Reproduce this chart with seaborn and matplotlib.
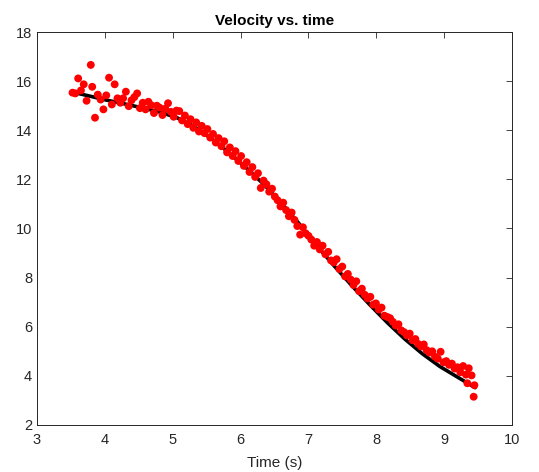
# Velocity vs. time: measured samples (red) with the fitted curve (black)
import matplotlib as mpl
import matplotlib.pyplot as plt
import numpy as np
import seaborn as sns
import pandas as pd

# Measured samples
timeA = [3.524, 3.565, 3.607, 3.648, 3.689, 3.731, 3.793, 3.814, 3.855, 3.896, 3.938, 3.979, 4.021, 4.062, 4.103, 4.145, 4.186, 4.228]
velA = [15.53, 15.50, 16.11, 15.62, 15.87, 15.20, 16.66, 15.77, 14.51, 15.45, 15.25, 14.85, 15.42, 16.14, 15.05, 15.87, 15.30, 15.12]
timeB = [4.269, 4.310, 4.352, 4.393, 4.435, 4.476, 4.517, 4.559, 4.600, 4.642, 4.683, 4.724, 4.766, 4.807, 4.849, 4.890, 4.931, 4.973, 5.014, 5.056]
velB = [15.30, 15.57, 14.98, 15.22, 15.35, 15.50, 14.90, 15.12, 14.85, 15.16, 15.02, 14.70, 15.00, 14.92, 14.62, 14.88, 15.10, 14.75, 14.55, 14.80]
timeC = [5.097, 5.138, 5.180, 5.221, 5.263, 5.304, 5.346, 5.387, 5.428, 5.470, 5.511, 5.553, 5.594, 5.635, 5.677, 5.718, 5.760, 5.801, 5.842, 5.884, 5.925, 5.967, 6.008, 6.049, 6.091]
velC = [14.78, 14.40, 14.60, 14.25, 14.45, 14.10, 14.32, 13.95, 14.18, 13.88, 14.05, 13.70, 13.85, 13.50, 13.68, 13.35, 13.55, 13.10, 13.30, 12.95, 13.15, 12.75, 12.95, 12.55, 12.70]
timeD = [6.132, 6.174, 6.215, 6.257, 6.298, 6.339, 6.381, 6.422, 6.464, 6.505, 6.546, 6.588, 6.629, 6.671, 6.712, 6.753, 6.795, 6.836, 6.878, 6.919, 6.960, 7.002, 7.043, 7.085, 7.126]
velD = [12.30, 12.50, 12.10, 12.25, 11.65, 11.95, 11.80, 11.50, 11.62, 11.30, 11.15, 10.90, 11.05, 10.75, 10.50, 10.65, 10.35, 10.10, 9.75, 10.05, 9.80, 9.70, 9.55, 9.30, 9.45]
timeE = [7.167, 7.209, 7.250, 7.292, 7.333, 7.374, 7.416, 7.457, 7.499, 7.540, 7.581, 7.623, 7.664, 7.706, 7.747, 7.788, 7.830, 7.871, 7.913, 7.954, 7.995, 8.037, 8.078, 8.120, 8.162]
velE = [9.15, 9.30, 8.95, 9.05, 8.70, 8.62, 8.75, 8.35, 8.45, 8.05, 8.15, 7.92, 7.70, 7.85, 7.45, 7.55, 7.30, 7.15, 7.22, 6.90, 6.95, 6.70, 6.78, 6.45, 6.40]
timeF = [8.203, 8.244, 8.286, 8.327, 8.369, 8.410, 8.451, 8.493, 8.534, 8.576, 8.617, 8.658, 8.700, 8.741, 8.783, 8.824, 8.865, 8.907, 8.948, 8.990,
         9.031, 9.072, 9.114, 9.155, 9.197, 9.238, 9.280, 9.321, 9.363, 9.404, 9.446, 9.342, 9.435]
velF = [6.35, 6.20, 6.05, 6.10, 5.85, 5.78, 5.65, 5.72, 5.45, 5.50, 5.30, 5.20, 5.28, 5.05, 4.95, 5.00, 4.78, 4.70, 4.98, 4.55,
        4.60, 4.45, 4.50, 4.30, 4.35, 4.15, 4.40, 4.05, 4.31, 4.02, 3.62, 3.70, 3.15]

# Fitted curve
timeFit = [3.524, 3.762, 4.020, 4.279, 4.538, 4.797, 5.056, 5.314, 5.573, 5.832, 6.091, 6.350, 6.609, 6.868, 7.126, 7.385, 7.644, 7.903, 8.162, 8.420, 8.679, 8.938, 9.197, 9.456]
velFit = [15.55, 15.40, 15.23, 15.08, 14.92, 14.75, 14.52, 14.16, 13.66, 13.08, 12.45, 11.78, 11.00, 10.18, 9.30, 8.46, 7.66, 6.90, 6.17, 5.50, 4.90, 4.38, 3.95, 3.52]

dfData = pd.DataFrame({'Time': timeA + timeB + timeC + timeD + timeE + timeF,
                       'Velocity': velA + velB + velC + velD + velE + velF})
dfFit = pd.DataFrame({'Time': timeFit, 'Velocity': velFit})

sns.set_style('white')
plt.rcParams['font.family'] = ['Liberation Sans', 'DejaVu Sans']
mpl.rc('font', size=10)
edgeGray = '#262626'

fig = plt.figure(figsize=(5.39, 4.72), dpi=100)
ax = fig.add_axes([0.0686, 0.0996, 0.8813, 0.8326])

sns.lineplot(x='Time', y='Velocity', data=dfFit, color='black', linewidth=2.6, ax=ax, zorder=2)
sns.scatterplot(x='Time', y='Velocity', data=dfData, color='red', s=32, edgecolor='none', ax=ax, zorder=3)

ax.set_xlim(3, 10)
ax.set_ylim(2, 18)
ax.set_xticks(np.arange(3, 11, 1))
ax.set_yticks(np.arange(2, 19, 2))
ax.set_title('Velocity vs. time', fontsize=11, fontweight='bold', color='black', pad=5)
ax.set_xlabel('Time (s)', fontsize=11, color=edgeGray, labelpad=6)
ax.set_ylabel('')
ax.tick_params(direction='in', length=4, width=0.6, top=True, right=True, colors=edgeGray, labelsize=10.5)
ax.tick_params(axis='x', pad=6)
for spine in ax.spines.values():
    spine.set_visible(True)
    spine.set_color(edgeGray)
    spine.set_linewidth(0.7)

fig.savefig('out.png', dpi=100)
